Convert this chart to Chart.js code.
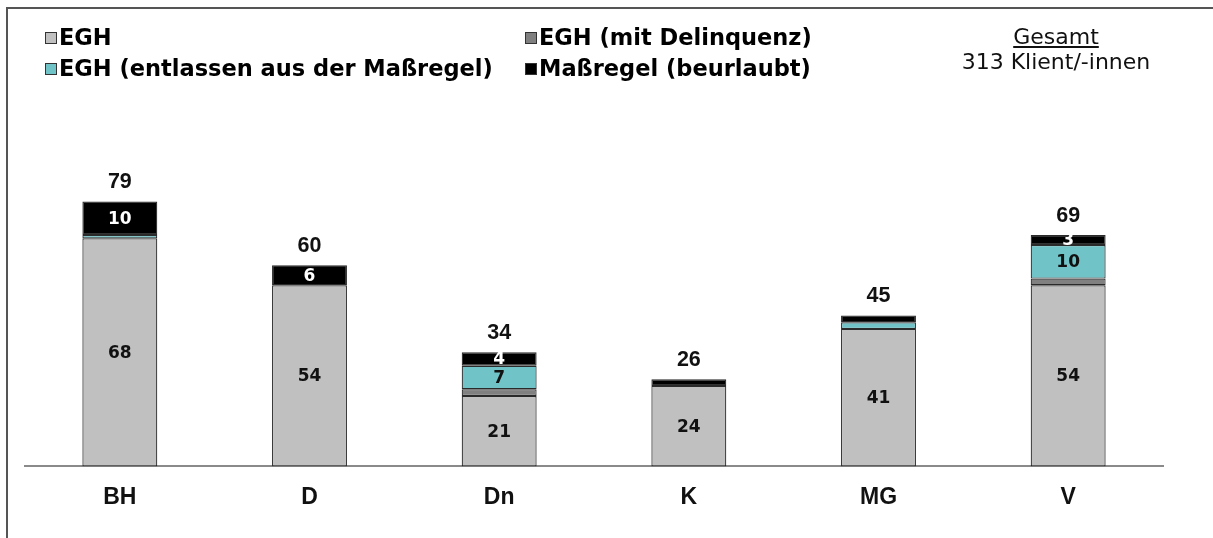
<!DOCTYPE html>
<html>
<head>
<meta charset="utf-8">
<script src="https://cdn.jsdelivr.net/npm/chart.js@4.4.0/dist/chart.umd.min.js"></script>
<style>
  html, body { margin: 0; padding: 0; background: #fff; }
  #wrap { position: relative; width: 1213px; height: 538px; overflow: hidden; }
  #frame { position: absolute; left: 6px; top: 7px; width: 1220px; height: 600px;
           border-left: 2px solid #555; border-top: 2px solid #555; }
  canvas { position: absolute; left: 0; top: 0; }
  .leg { position: absolute; font: bold 22.5px "DejaVu Sans", Verdana, sans-serif; line-height: 28px; color: #000; white-space: nowrap; }
  .leg i { display: inline-block; width: 10px; height: 10px; border: 1px solid #333; margin-right: 2px; vertical-align: 1px; }
  #gesamt { position: absolute; left: 936px; top: 24px; width: 240px; text-align: center;
            font: 22px "DejaVu Sans", Tahoma, sans-serif; line-height: 25px; color: #111; }
</style>
</head>
<body>
<div id="wrap">
  <div id="frame"></div>
  <canvas id="chart" width="1213" height="538"></canvas>
  <div id="legend"></div>
  <div id="gesamt"></div>
</div>
<script>
const categories = ['BH', 'D', 'Dn', 'K', 'MG', 'V'];
const egh         = [68, 54, 21, 24, 41, 54];
const eghDelinq   = [0, 0, 2, 0, 0, 2];
const eghEntlass  = [1, 0, 7, 0, 2, 10];
const massregel   = [10, 6, 4, 2, 2, 3];

const seriesNames = ['EGH', 'EGH (mit Delinquenz)', 'EGH (entlassen aus der Maßregel)', 'Maßregel (beurlaubt)'];
const seriesColors = ['#c0c0c0', '#808080', '#70c4c8', '#000000'];
const labelColors = ['#111', '#fff', '#111', '#fff'];
const minLabel = 3;

const totals = categories.map((c, i) => egh[i] + eghDelinq[i] + eghEntlass[i] + massregel[i]);
const grand = totals.reduce((a, b) => a + b, 0);

// legend, 2 columns like the original
const legPos = [[45, 23], [525, 23], [45, 54], [525, 54]];
const legend = document.getElementById('legend');
seriesNames.forEach((n, i) => {
  const d = document.createElement('div');
  d.className = 'leg';
  d.style.left = legPos[i][0] + 'px';
  d.style.top = legPos[i][1] + 'px';
  d.innerHTML = '<i style="background:' + seriesColors[i] + '"></i>' + n;
  legend.appendChild(d);
});
document.getElementById('gesamt').innerHTML = '<u>Gesamt</u><br>' + grand + ' Klient/-innen';

const barLabels = {
  id: 'barLabels',
  afterDatasetsDraw(chart) {
    const ctx = chart.ctx;
    ctx.save();
    ctx.textAlign = 'center';
    ctx.textBaseline = 'middle';
    chart.data.datasets.forEach((ds, di) => {
      chart.getDatasetMeta(di).data.forEach((bar, i) => {
        const v = ds.data[i];
        if (v < minLabel) return;
        ctx.font = 'bold 17px "DejaVu Sans", Verdana, sans-serif';
        ctx.fillStyle = labelColors[di];
        ctx.fillText(v, bar.x, (bar.y + bar.base) / 2 + 1);
      });
    });
    const top = chart.getDatasetMeta(chart.data.datasets.length - 1).data;
    ctx.font = 'bold 21.5px "Liberation Sans", Arial, sans-serif';
    ctx.fillStyle = '#111';
    top.forEach((bar, i) => {
      const y = chart.scales.y.getPixelForValue(totals[i]);
      ctx.fillText(totals[i], bar.x, y - 19);
    });
    ctx.restore();
  }
};

new Chart(document.getElementById('chart'), {
  type: 'bar',
  data: {
    labels: categories,
    datasets: [egh, eghDelinq, eghEntlass, massregel].map((d, i) => ({
      label: seriesNames[i],
      data: d,
      backgroundColor: seriesColors[i],
      borderColor: '#2a2a2a',
      borderWidth: c => (c.raw ? 1.2 : 0),
      borderSkipped: false,
      categoryPercentage: 1,
      barPercentage: 0.395
    }))
  },
  options: {
    responsive: false,
    animation: false,
    layout: { padding: { left: 25, right: 50, top: 131, bottom: 10 } },
    plugins: { legend: { display: false }, tooltip: { enabled: false } },
    scales: {
      x: {
        stacked: true,
        grid: { display: false, drawTicks: false },
        border: { display: true, color: '#8a8a8a', width: 2 },
        ticks: { color: '#111', padding: 17, font: { family: '"Liberation Sans", Arial, sans-serif', size: 23, weight: 'bold' } }
      },
      y: { stacked: true, display: false, min: 0, max: 100 }
    }
  },
  plugins: [barLabels]
});
</script>
</body>
</html>
